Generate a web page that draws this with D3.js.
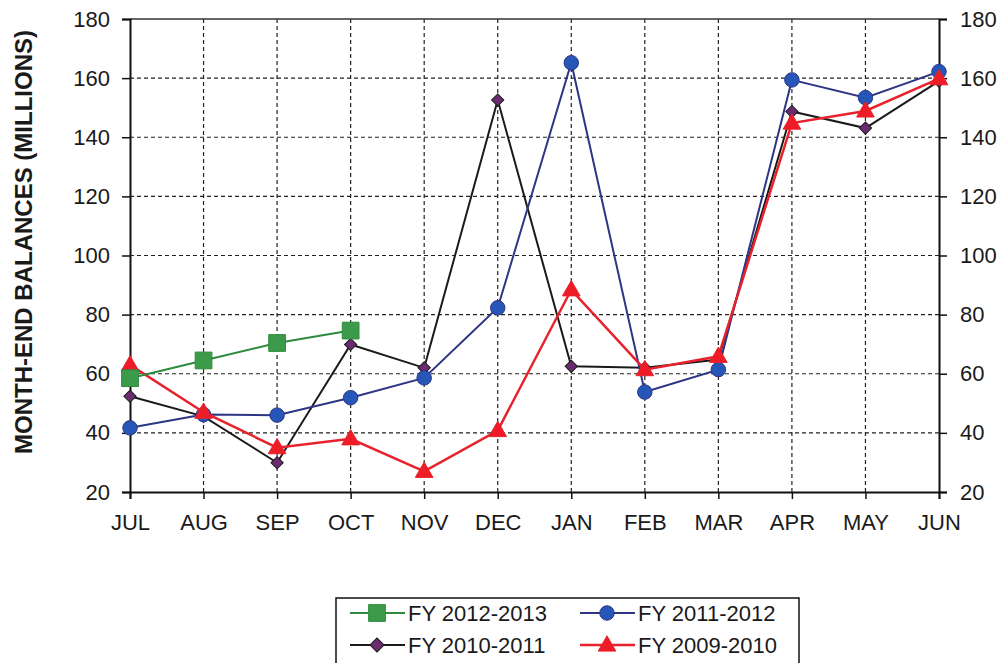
<!DOCTYPE html>
<html>
<head>
<meta charset="utf-8">
<script src="https://cdn.jsdelivr.net/npm/d3@7"></script>
<style>
  html, body { margin: 0; padding: 0; background: #fff; }
  svg { display: block; font-family: Arial, "Liberation Sans", sans-serif; }
</style>
</head>
<body>
<svg id="chart" width="1002" height="663"></svg>
<script>
// Month-end balances by fiscal year (millions)
const months = ["JUL","AUG","SEP","OCT","NOV","DEC","JAN","FEB","MAR","APR","MAY","JUN"];
const fy2012_2013 = [58.5, 64.5, 70.4, 74.6];
const fy2011_2012 = [41.7, 46.2, 46.0, 51.9, 58.6, 82.3, 165.2, 53.8, 61.4, 159.4, 153.4, 162.2];
const fy2010_2011 = [52.4, 45.6, 29.9, 69.9, 62.0, 152.6, 62.5, 62.0, 64.8, 148.7, 143.1, 159.0];
const fy2009_2010 = [63.0, 47.0, 35.0, 38.0, 27.0, 40.8, 88.4, 61.4, 65.9, 144.8, 148.9, 159.8];
const yTicks = [20, 40, 60, 80, 100, 120, 140, 160, 180];

const series = [
  { name: "FY 2010-2011", values: fy2010_2011, line: "#1a1a1a", fill: "#6a2c6e", shape: "diamond", width: 2 },
  { name: "FY 2011-2012", values: fy2011_2012, line: "#2d3584", fill: "#2657b8", shape: "circle", width: 2 },
  { name: "FY 2009-2010", values: fy2009_2010, line: "#e8222c", fill: "#ee1c26", shape: "triangle", width: 2.5 },
  { name: "FY 2012-2013", values: fy2012_2013, line: "#2e8b3e", fill: "#3c9a4b", shape: "square", width: 2 }
];

const svg = d3.select("#chart");
const plotLeft = 130, plotRight = 939, plotTop = 19, plotBottom = 492;

const x = d3.scalePoint().domain(months).range([plotLeft, plotRight]);
const y = d3.scaleLinear().domain([20, 180]).range([plotBottom, plotTop]);

// dashed grid
const grid = svg.append("g");
grid.selectAll("line.h").data(yTicks.slice(1, -1)).join("line")
  .attr("x1", plotLeft).attr("x2", plotRight)
  .attr("y1", d => y(d)).attr("y2", d => y(d))
  .attr("stroke", "#222").attr("stroke-width", 1.2).attr("stroke-dasharray", "4,3");
grid.selectAll("line.v").data(months.slice(1, -1)).join("line")
  .attr("x1", d => x(d)).attr("x2", d => x(d))
  .attr("y1", plotTop).attr("y2", plotBottom)
  .attr("stroke", "#222").attr("stroke-width", 1.2).attr("stroke-dasharray", "4,3");

// top edge of the frame
svg.append("line").attr("x1", plotLeft).attr("x2", plotRight).attr("y1", plotTop).attr("y2", plotTop)
  .attr("stroke", "#333").attr("stroke-width", 1.5);

const axisStyle = g => {
  g.selectAll("path").attr("stroke", "#111").attr("stroke-width", 2);
  g.selectAll("line").attr("stroke", "#111").attr("stroke-width", 1.5);
  g.selectAll("text").attr("fill", "#1a1a1a").style("font-size", "22px");
};

svg.append("g").attr("transform", `translate(0,${plotBottom})`)
  .call(d3.axisBottom(x).tickSizeOuter(0).tickSize(7).tickPadding(15))
  .call(axisStyle);
svg.append("g").attr("transform", `translate(${plotLeft},0)`)
  .call(d3.axisLeft(y).tickValues(yTicks).tickSizeOuter(0).tickSize(8).tickPadding(12))
  .call(axisStyle);
svg.append("g").attr("transform", `translate(${plotRight},0)`)
  .call(d3.axisRight(y).tickValues(yTicks).tickSizeOuter(0).tickSize(8).tickPadding(13))
  .call(axisStyle);

// y title
svg.append("text")
  .attr("transform", `translate(32,242) rotate(-90)`)
  .attr("text-anchor", "middle")
  .style("font-size", "24px").style("font-weight", "bold").attr("fill", "#1a1a1a")
  .text("MONTH-END BALANCES (MILLIONS)");

// marker symbols
const symbolFor = {
  circle: d3.symbol(d3.symbolCircle, 165),
  square: d3.symbol(d3.symbolSquare, 280),
  diamond: d3.symbol(d3.symbolSquare, 75),
  triangle: d3.symbol(d3.symbolTriangle, 135)
};
const markTransform = (s, px, py) =>
  `translate(${px},${py + (s.shape === "triangle" ? 1 : 0)})` + (s.shape === "diamond" ? " rotate(45)" : "");

const line = d3.line().x((d, i) => x(months[i])).y(d => y(d));

series.forEach(s => {
  const g = svg.append("g");
  g.append("path").datum(s.values).attr("d", line)
    .attr("fill", "none").attr("stroke", s.line).attr("stroke-width", s.width);
  g.selectAll("path.m").data(s.values).join("path")
    .attr("class", "m")
    .attr("d", symbolFor[s.shape]())
    .attr("transform", (d, i) => markTransform(s, x(months[i]), y(d)))
    .attr("fill", s.fill).attr("stroke", s.line).attr("stroke-width", 1);
});

// legend
const legendOrder = [series[3], series[1], series[0], series[2]];
const lg = svg.append("g");
lg.append("rect").attr("x", 336).attr("y", 598).attr("width", 463).attr("height", 70)
  .attr("fill", "#fff").attr("stroke", "#111").attr("stroke-width", 1.5);
legendOrder.forEach((s, i) => {
  const col = i % 2, row = Math.floor(i / 2);
  const lx = 350 + col * 230, ly = 613 + row * 32;
  lg.append("line").attr("x1", lx).attr("x2", lx + 55).attr("y1", ly).attr("y2", ly)
    .attr("stroke", s.line).attr("stroke-width", s.width);
  lg.append("path").attr("d", s.shape === "diamond" ? d3.symbol(d3.symbolSquare, 100)() : symbolFor[s.shape]())
    .attr("transform", markTransform(s, lx + 27, ly))
    .attr("fill", s.fill).attr("stroke", s.line).attr("stroke-width", 1);
  lg.append("text").attr("x", lx + 58).attr("y", ly + 8)
    .style("font-size", "22px").attr("fill", "#1a1a1a").text(s.name);
});
</script>
</body>
</html>
